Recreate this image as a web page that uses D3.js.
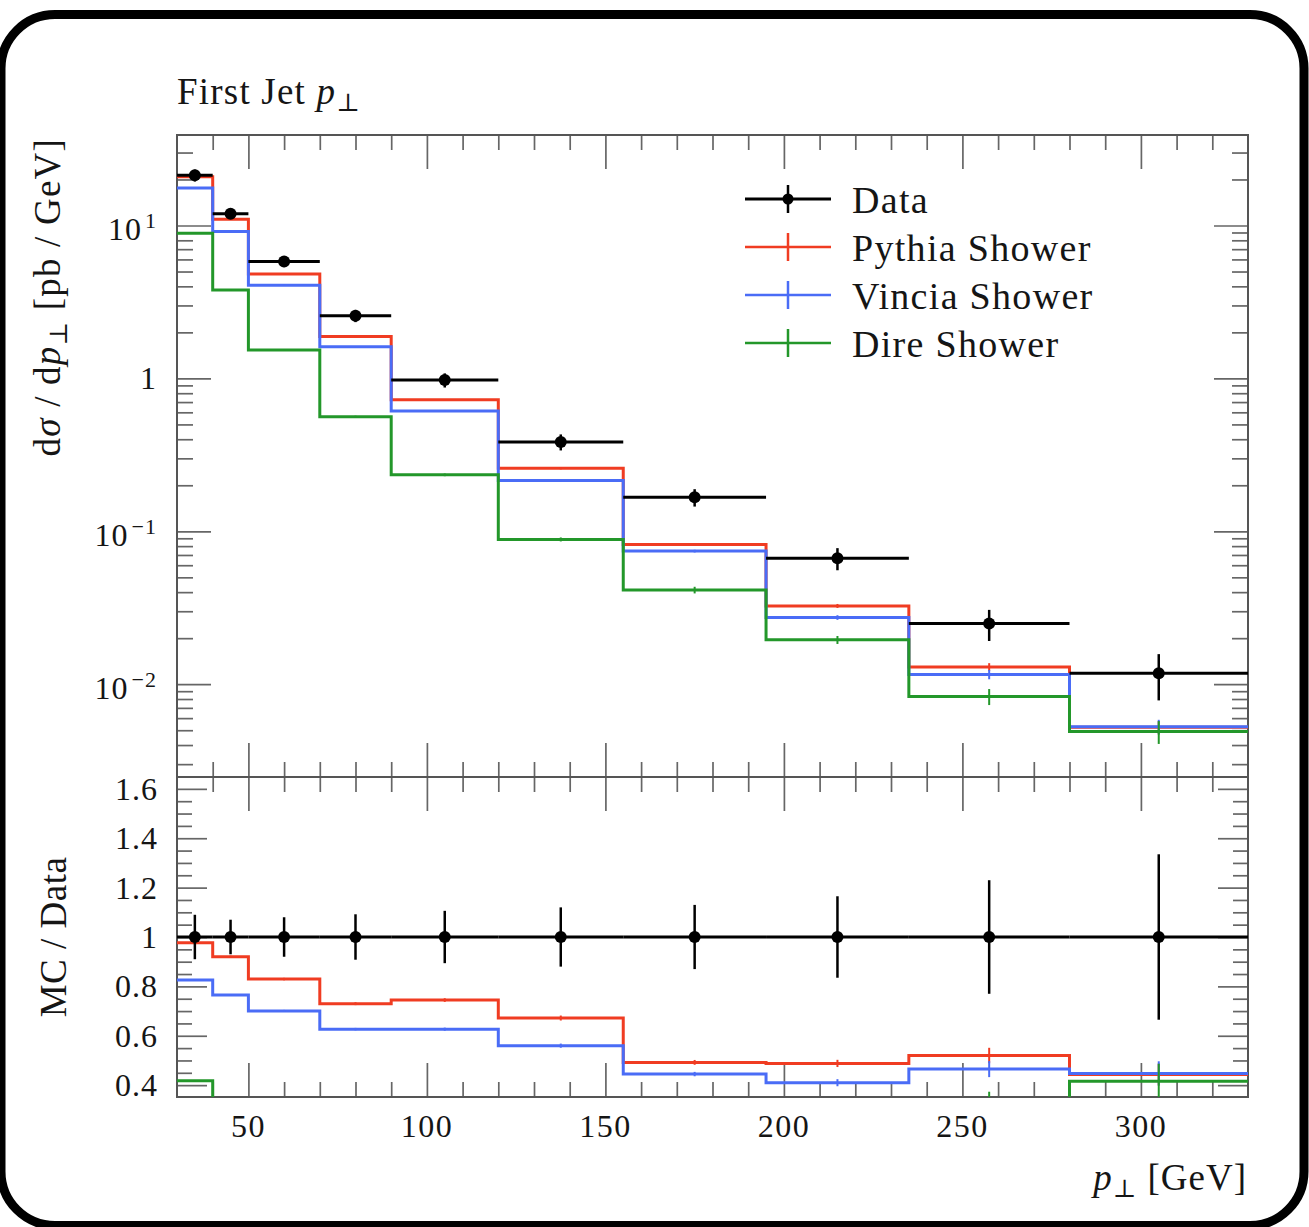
<!DOCTYPE html>
<html><head><meta charset="utf-8">
<script src="https://cdn.jsdelivr.net/npm/d3@7"></script>
<style>
body{margin:0;background:#fff}
svg{display:block}
text{font-family:"Liberation Serif","DejaVu Serif",serif;fill:#151515}
</style>
</head><body>
<svg id="c" width="1309" height="1227"></svg>
<script>
// ---------------- data ----------------
const binEdges = [30, 40, 50, 70, 90, 120, 155, 195, 235, 280, 330];
const dataValues = [21.3, 11.95, 5.81, 2.57, 0.975, 0.384, 0.1668, 0.0666, 0.0249, 0.01178];
const dataRelErr = [0.09, 0.07, 0.08, 0.092, 0.106, 0.12, 0.13, 0.165, 0.23, 0.335];
const pythiaValues = [20.81, 10.99, 4.82, 1.876, 0.726, 0.258, 0.0821, 0.0325, 0.01295, 0.00522];
const pythiaRelErr = [0.004, 0.005, 0.006, 0.008, 0.01, 0.015, 0.02, 0.03, 0.06, 0.10];
const vinciaValues = [17.59, 9.14, 4.07, 1.611, 0.611, 0.215, 0.0742, 0.0273, 0.01158, 0.00527];
const vinciaRelErr = [0.004, 0.005, 0.006, 0.008, 0.01, 0.015, 0.02, 0.035, 0.07, 0.11];
const direValues = [8.9, 3.79, 1.535, 0.562, 0.234, 0.0885, 0.0413, 0.0195, 0.0083, 0.0049];
const direRelErr = [0.006, 0.008, 0.01, 0.014, 0.02, 0.03, 0.05, 0.06, 0.12, 0.17];
const seriesNames = ["Data", "Pythia Shower", "Vincia Shower", "Dire Shower"];
const seriesColors = ["#000000", "#f03c22", "#4a6cf6", "#23972a"];
const xTickValues = [50, 100, 150, 200, 250, 300];
const xTickLabels = ["50", "100", "150", "200", "250", "300"];
const logTickValues = [10, 1, 0.1, 0.01];
const logTickBase = ["10", "1", "10", "10"];
const logTickExp = ["1", "", "\u22121", "\u22122"];
const ratioTickValues = [0.4, 0.6, 0.8, 1, 1.2, 1.4, 1.6];
const ratioTickLabels = ["0.4", "0.6", "0.8", "1", "1.2", "1.4", "1.6"];

// ---------------- layout ----------------
const L = 177, R = 1248, T = 135, MID = 777, B = 1097;
const svg = d3.select("#c");

svg.append("rect").attr("x", 1).attr("y", 14.5).attr("width", 1303).attr("height", 1211)
  .attr("rx", 54).attr("ry", 54).attr("fill", "#fff").attr("stroke", "#000").attr("stroke-width", 9);

const x = d3.scaleLinear().domain([30, 330]).range([L, R]);
const y = d3.scaleLog().domain([0.002472, 39.07]).range([MID, T]);
const yr = d3.scaleLinear().domain([0.352, 1.648]).range([B, MID]);

const defs = svg.append("defs");
defs.append("clipPath").attr("id", "cm").append("rect").attr("x", L).attr("y", T).attr("width", R - L).attr("height", MID - T);
defs.append("clipPath").attr("id", "cr").append("rect").attr("x", L).attr("y", MID).attr("width", R - L).attr("height", B - MID);

// ---------------- ticks ----------------
const tickColor = "#666";
function ticks(g, axisFn, scale, values, size) {
  g.call(axisFn(scale).tickValues(values).tickSize(size).tickFormat(""));
  g.select(".domain").remove();
  g.selectAll("line").attr("stroke", tickColor).attr("stroke-width", 1.7);
}
const xMinor = x.ticks(30).filter(v => v > 30 && v < 330 && v % 50 !== 0);
const yAll = y.ticks();
const yMinor = yAll.filter(v => Math.abs(Math.log10(v) - Math.round(Math.log10(v))) > 1e-6);
const rMinor = yr.ticks(26).filter(v => ratioTickValues.every(t => Math.abs(t - v) > 1e-6));

const axes = svg.append("g");
// main panel
ticks(axes.append("g").attr("transform", `translate(0,${T})`), d3.axisTop, x, xTickValues, -34);
ticks(axes.append("g").attr("transform", `translate(0,${T})`), d3.axisTop, x, xMinor, -15);
ticks(axes.append("g").attr("transform", `translate(0,${MID})`), d3.axisBottom, x, xTickValues, -34);
ticks(axes.append("g").attr("transform", `translate(0,${MID})`), d3.axisBottom, x, xMinor, -15);
ticks(axes.append("g").attr("transform", `translate(${L},0)`), d3.axisLeft, y, logTickValues, -34);
ticks(axes.append("g").attr("transform", `translate(${L},0)`), d3.axisLeft, y, yMinor, -16);
ticks(axes.append("g").attr("transform", `translate(${R},0)`), d3.axisRight, y, logTickValues, -34);
ticks(axes.append("g").attr("transform", `translate(${R},0)`), d3.axisRight, y, yMinor, -16);
// ratio panel
ticks(axes.append("g").attr("transform", `translate(0,${MID})`), d3.axisTop, x, xTickValues, -34);
ticks(axes.append("g").attr("transform", `translate(0,${MID})`), d3.axisTop, x, xMinor, -15);
ticks(axes.append("g").attr("transform", `translate(0,${B})`), d3.axisBottom, x, xTickValues, -34);
ticks(axes.append("g").attr("transform", `translate(0,${B})`), d3.axisBottom, x, xMinor, -15);
ticks(axes.append("g").attr("transform", `translate(${L},0)`), d3.axisLeft, yr, ratioTickValues, -30);
ticks(axes.append("g").attr("transform", `translate(${L},0)`), d3.axisLeft, yr, rMinor, -15);
ticks(axes.append("g").attr("transform", `translate(${R},0)`), d3.axisRight, yr, ratioTickValues, -30);
ticks(axes.append("g").attr("transform", `translate(${R},0)`), d3.axisRight, yr, rMinor, -15);

// frames
[[T, MID], [MID, B]].forEach(([a, b]) => {
  axes.append("rect").attr("x", L).attr("y", a).attr("width", R - L).attr("height", b - a)
    .attr("fill", "none").attr("stroke", "#555").attr("stroke-width", 2);
});

// ---------------- marks ----------------
const mids = binEdges.slice(0, -1).map((e, i) => (e + binEdges[i + 1]) / 2);
const line = d3.line();
function stepPts(vals, sc) {
  const p = [];
  vals.forEach((v, i) => { p.push([x(binEdges[i]), sc(v)]); p.push([x(binEdges[i + 1]), sc(v)]); });
  return p;
}
const mc = [
  {values: pythiaValues, err: pythiaRelErr, color: seriesColors[1]},
  {values: vinciaValues, err: vinciaRelErr, color: seriesColors[2]},
  {values: direValues, err: direRelErr, color: seriesColors[3]}
];

const gm = svg.append("g").attr("clip-path", "url(#cm)");
const gr = svg.append("g").attr("clip-path", "url(#cr)");

mc.forEach(s => {
  gm.append("path").attr("d", line(stepPts(s.values, y))).attr("fill", "none")
    .attr("stroke", s.color).attr("stroke-width", 3).attr("stroke-linejoin", "miter");
  s.values.forEach((v, i) => {
    gm.append("line").attr("x1", x(mids[i])).attr("x2", x(mids[i]))
      .attr("y1", y(v * (1 - s.err[i]))).attr("y2", y(v * (1 + s.err[i])))
      .attr("stroke", s.color).attr("stroke-width", 2);
  });
  const ratio = s.values.map((v, i) => v / dataValues[i]);
  gr.append("path").attr("d", line(stepPts(ratio, yr))).attr("fill", "none")
    .attr("stroke", s.color).attr("stroke-width", 3);
  ratio.forEach((r, i) => {
    gr.append("line").attr("x1", x(mids[i])).attr("x2", x(mids[i]))
      .attr("y1", yr(r * (1 - s.err[i]))).attr("y2", yr(r * (1 + s.err[i])))
      .attr("stroke", s.color).attr("stroke-width", 2);
  });
});

// data
dataValues.forEach((v, i) => {
  gm.append("line").attr("x1", x(binEdges[i])).attr("x2", x(binEdges[i + 1]))
    .attr("y1", y(v)).attr("y2", y(v)).attr("stroke", "#000").attr("stroke-width", 3);
  gm.append("line").attr("x1", x(mids[i])).attr("x2", x(mids[i]))
    .attr("y1", y(v * (1 - dataRelErr[i]))).attr("y2", y(v * (1 + dataRelErr[i])))
    .attr("stroke", "#000").attr("stroke-width", 2.5);
  gm.append("circle").attr("cx", x(mids[i])).attr("cy", y(v)).attr("r", 6).attr("fill", "#000");

  gr.append("line").attr("x1", x(binEdges[i])).attr("x2", x(binEdges[i + 1]))
    .attr("y1", yr(1)).attr("y2", yr(1)).attr("stroke", "#000").attr("stroke-width", 3);
  gr.append("line").attr("x1", x(mids[i])).attr("x2", x(mids[i]))
    .attr("y1", yr(1 - dataRelErr[i])).attr("y2", yr(1 + dataRelErr[i]))
    .attr("stroke", "#000").attr("stroke-width", 2.5);
  gr.append("circle").attr("cx", x(mids[i])).attr("cy", yr(1)).attr("r", 6).attr("fill", "#000");
});

// ---------------- labels ----------------
const tickFont = 32;
xTickValues.forEach((v, i) => {
  svg.append("text").attr("x", x(v)).attr("y", 1137).attr("text-anchor", "middle")
    .attr("font-size", tickFont).attr("letter-spacing", 1.5).text(xTickLabels[i]);
});
ratioTickValues.forEach((v, i) => {
  svg.append("text").attr("x", 158).attr("y", yr(v) + 11).attr("text-anchor", "end")
    .attr("font-size", tickFont).attr("letter-spacing", 1).text(ratioTickLabels[i]);
});
logTickValues.forEach((v, i) => {
  const hasExp = logTickExp[i] !== "";
  const t = svg.append("text").attr("x", 157).attr("y", y(v) + (hasExp ? 15 : 11))
    .attr("text-anchor", "end").attr("font-size", tickFont).attr("letter-spacing", 1);
  t.append("tspan").text(logTickBase[i]);
  if (hasExp) t.append("tspan").attr("dy", -12).attr("dx", 3).attr("font-size", 22).text(logTickExp[i]);
});

// title
const title = svg.append("text").attr("x", 177).attr("y", 104).attr("font-size", 37).attr("letter-spacing", 1.2);
title.append("tspan").text("First Jet ");
title.append("tspan").attr("font-style", "italic").text("p");
title.append("tspan").attr("dy", 7).attr("font-size", 25).text("\u22a5");

// y label main
const yl = svg.append("text").attr("transform", "translate(60,138) rotate(-90)")
  .attr("text-anchor", "end").attr("font-size", 37).attr("letter-spacing", 1.2);
yl.append("tspan").text("d");
yl.append("tspan").attr("font-style", "italic").text("\u03c3");
yl.append("tspan").text(" / d");
yl.append("tspan").attr("font-style", "italic").text("p");
yl.append("tspan").attr("dy", 7).attr("font-size", 25).text("\u22a5");
yl.append("tspan").attr("dy", -7).text(" [pb / GeV]");

// y label ratio
svg.append("text").attr("transform", `translate(66,${(MID + B) / 2}) rotate(-90)`)
  .attr("text-anchor", "middle").attr("font-size", 37).attr("letter-spacing", 0.5).text("MC / Data");

// x label
const xl = svg.append("text").attr("x", 1247).attr("y", 1190).attr("text-anchor", "end")
  .attr("font-size", 37).attr("letter-spacing", 1);
xl.append("tspan").attr("font-style", "italic").text("p");
xl.append("tspan").attr("dy", 7).attr("font-size", 25).text("\u22a5");
xl.append("tspan").attr("dy", -7).text(" [GeV]");

// ---------------- legend ----------------
const lg = svg.append("g");
seriesNames.forEach((name, i) => {
  const cy = 199 + i * 48;
  const col = seriesColors[i];
  lg.append("line").attr("x1", 745).attr("x2", 831).attr("y1", cy).attr("y2", cy)
    .attr("stroke", col).attr("stroke-width", i === 0 ? 3 : 2.5);
  lg.append("line").attr("x1", 788).attr("x2", 788).attr("y1", cy - 14).attr("y2", cy + 14)
    .attr("stroke", col).attr("stroke-width", 2.5);
  if (i === 0) lg.append("circle").attr("cx", 788).attr("cy", cy).attr("r", 5.5).attr("fill", "#000");
  lg.append("text").attr("x", 852).attr("y", cy + 14).attr("font-size", 38)
    .attr("letter-spacing", 1.3).text(name);
});
</script>
</body></html>
